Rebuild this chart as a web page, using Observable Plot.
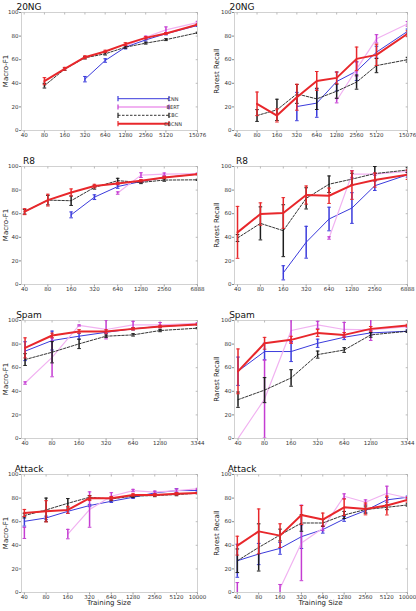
<!DOCTYPE html>
<html>
<head>
<meta charset="utf-8">
<script src="https://cdn.jsdelivr.net/npm/d3@7"></script>
<script src="https://cdn.jsdelivr.net/npm/@observablehq/plot@0.6"></script>
<style>
  body { margin: 0; background: #fff; }
  #chart { position: relative; width: 416px; height: 611px; font-family: "DejaVu Sans", sans-serif; }
  #chart svg { position: absolute; }
</style>
</head>
<body>
<div id="chart"></div>
<script>
// ---- training sizes (x) per dataset ----
const sizes20NG = [40, 80, 160, 320, 640, 1280, 2560, 5120, 15076];
const sizesR8 = [40, 80, 160, 320, 640, 1280, 2560, 6888];
const sizesSpam = [40, 80, 160, 320, 640, 1280, 3344];
const sizesAttack = [40, 80, 160, 320, 640, 1280, 2560, 5120, 10000];

const yTicks = [0, 20, 40, 60, 80, 100];

// ---- 20NG, Macro-F1 (mean, error) ----
const ngF1Cnn = [null, null, null, 43.5, 59.3, 70.6, 76.8, 82, 89];
const ngF1CnnErr = [null, null, null, 2.3, 1.5, 1.5, 1, 1, 0.8];
const ngF1Bert = [null, null, null, null, null, 71.5, 79, 85.3, 91.5];
const ngF1BertErr = [null, null, null, null, null, 1, 1, 2.5, 1];
const ngF1Cbc = [null, 38, 52, 61.6, 65, 70.6, 74, 77, 82.8];
const ngF1CbcErr = [null, 2, 1, 1, 1, 1, 0.8, 0.8, 0.5];
const ngF1Cbcnn = [null, 41.8, 52.3, 62.1, 67, 73.2, 78.5, 82.2, 89.8];
const ngF1CbcnnErr = [null, 3, 1.2, 1.2, 1, 1.2, 1, 0.8, 0.5];

// ---- 20NG, Rarest Recall ----
const ngRecCnn = [null, null, null, 20.3, 23.2, 41.5, 50.3, 66.4, 84];
const ngRecCnnErr = [null, null, null, 12, 12, 8, 8, 5, 2];
const ngRecBert = [null, null, null, null, null, 25.4, 52, 77.7, 90.4];
const ngRecBertErr = [null, null, null, null, null, 2, 6, 3.5, 2];
const ngRecCbc = [null, 12.7, 17.5, 31, 26.8, 33.3, 41, 55, 60];
const ngRecCbcErr = [null, 5, 9, 8, 9, 6, 6, 6, 2];
const ngRecCbcnn = [null, 22.6, 12.7, 28.2, 42, 44.6, 60.7, 64.1, 82];
const ngRecCbcnnErr = [null, 10, 5.5, 11, 8, 5, 10, 9, 2.5];

// ---- R8, Macro-F1 ----
const r8F1Cnn = [null, null, 59, 74, 83, 87.3, 90.7, 93.5];
const r8F1CnnErr = [null, null, 2.5, 2, 1.5, 1, 0.8, 0.5];
const r8F1Bert = [null, null, null, null, 77.5, 92.7, 93.5, 94];
const r8F1BertErr = [null, null, null, null, 1, 2, 1, 0.5];
const r8F1Cbc = [61.7, 71.5, 71, 82.3, 88, 86.5, 88.5, 88.7];
const r8F1CbcErr = [2, 4, 4, 1.5, 2, 1, 1, 0.5];
const r8F1Cbcnn = [61.7, 71.5, 78, 83.4, 85.6, 87.9, 90.7, 93.5];
const r8F1CbcnnErr = [2.5, 5, 3, 1.5, 1, 1, 1, 0.5];

// ---- R8, Rarest Recall ----
const r8RecCnn = [null, null, 9.9, 35.8, 55.5, 64.8, 83.7, 93];
const r8RecCnnErr = [null, null, 6, 13.5, 10, 13, 4, 2];
const r8RecBert = [null, null, null, null, 39.4, 93.5, 93.5, 95.8];
const r8RecBertErr = [null, null, null, null, 1, 3, 1, 1];
const r8RecCbc = [39.4, 51.8, 45.6, 73, 85, 89.3, 94, 97];
const r8RecCbcErr = [3, 14, 22, 9, 7, 5, 6, 2];
const r8RecCbcnn = [44.2, 59.7, 60.6, 75.8, 75.2, 84.2, 88.5, 93];
const r8RecCbcnnErr = [22, 9.5, 13, 7.7, 6.5, 12, 6, 4];

// ---- Spam, Macro-F1 ----
const spamF1Cnn = [74, 83, 86.7, 90, 93, 95, 96.6];
const spamF1CnnErr = [8, 8, 2.5, 1, 1, 1, 0.5];
const spamF1Bert = [47, 68.8, 95.8, 92.4, 96.3, 96.3, 97.7];
const spamF1BertErr = [1, 16.5, 0.5, 8, 3, 2, 0.5];
const spamF1Cbc = [66.9, 73.1, 80.2, 86.7, 87.8, 91.5, 93.5];
const spamF1CbcErr = [5, 9, 4, 1, 1, 1, 0.5];
const spamF1Cbcnn = [76.8, 87.3, 90.7, 90.7, 92.9, 94.9, 96.6];
const spamF1CbcnnErr = [8.5, 2, 1.5, 1.5, 1, 1, 0.5];

// ---- Spam, Rarest Recall ----
const spamRecCnn = [57, 73.7, 73.7, 80.7, 85.8, 89.5, 90.9];
const spamRecCnnErr = [12, 7, 8.5, 3.5, 2, 2, 1];
const spamRecBert = [0, 33.4, 91.5, 96.3, 92.4, 92.1, 94.9];
const spamRecBertErr = [0, 33, 10, 3, 6, 9, 1];
const spamRecCbc = [32.9, 41, 51.3, 71.1, 75, 87.8, 90.9];
const spamRecCbcErr = [6.5, 10.6, 7, 3, 2, 2, 1];
const spamRecCbcnn = [56.9, 80.7, 83.6, 89.5, 87.8, 92.9, 95.8];
const spamRecCbcnnErr = [19, 5, 3, 3, 2, 2, 1];

// ---- Attack, Macro-F1 ----
const atkF1Cnn = [60.3, 63.2, 68.8, 73.7, 77.3, 80.7, 84.4, 86.4, 86.4];
const atkF1CnnErr = [4, 1.5, 1.5, 1, 1, 1, 1, 1.5, 0.5];
const atkF1Bert = [50.5, null, 49.5, 70.3, 81.6, 86.4, 85, 86.4, 87.8];
const atkF1BertErr = [4.7, null, 4, 15, 3, 1, 1, 1.5, 0.5];
const atkF1Cbc = [65.2, 70, 75.6, 80.7, 79.3, 81.6, 82.2, 83, 84.1];
const atkF1CbcErr = [2, 10, 4, 1.5, 1.5, 1, 1, 1, 0.5];
const atkF1Cbcnn = [67.4, 68.8, 70, 79.9, 79.9, 82.7, 82.7, 83.6, 84.4];
const atkF1CbcnnErr = [3, 9, 3, 2, 1.5, 1, 1, 1, 0.5];

// ---- Attack, Rarest Recall ----
const atkRecCnn = [26.9, 32.6, 37.4, 47.3, 53.3, 62.3, 69.4, 78.5, 80.7];
const atkRecCnnErr = [14, 9, 5, 10, 3, 2, 2, 2, 1];
const atkRecBert = [4.2, null, 3.4, 42, 54.4, 81.6, 76.5, 84.1, 80.2];
const atkRecBertErr = [4.2, null, 3.4, 32, 2, 2, 2, 6, 1];
const atkRecCbc = [26.9, 38.2, 48.7, 58.9, 58.9, 65.7, 70.3, 72.2, 74.2];
const atkRecCbcErr = [10, 20, 5, 7, 3, 3, 3, 2, 1];
const atkRecCbcnn = [39.7, 51.8, 48.2, 65.7, 61.8, 72.2, 70.8, 73.7, 78.5];
const atkRecCbcnnErr = [8, 19, 10, 8, 5.5, 7, 5, 8, 2];

// ---- model names and styles ----
const models = ["CNN", "BERT", "CBC", "CBCNN"];
const lineColor = {CNN: "#3b3bdc", BERT: "#f1b2f1", CBC: "#1e1e1e", CBCNN: "#e8272b"};
const barColor = {CNN: "#3b3bdc", BERT: "#c43cd2", CBC: "#1e1e1e", CBCNN: "#e8272b"};
const lineWidth = {CNN: 1, BERT: 1.2, CBC: 0.9, CBCNN: 2};
const lineDash = {CNN: null, BERT: null, CBC: "2.5,1.5", CBCNN: null};

// ---- panel grid ----
const panels = [
  {row: 0, col: 0, title: "20NG", ylabel: "Macro-F1", sizes: sizes20NG,
   series: {CNN: [ngF1Cnn, ngF1CnnErr], BERT: [ngF1Bert, ngF1BertErr], CBC: [ngF1Cbc, ngF1CbcErr], CBCNN: [ngF1Cbcnn, ngF1CbcnnErr]}},
  {row: 0, col: 1, title: "20NG", ylabel: "Rarest Recall", sizes: sizes20NG,
   series: {CNN: [ngRecCnn, ngRecCnnErr], BERT: [ngRecBert, ngRecBertErr], CBC: [ngRecCbc, ngRecCbcErr], CBCNN: [ngRecCbcnn, ngRecCbcnnErr]}},
  {row: 1, col: 0, title: "R8", ylabel: "Macro-F1", sizes: sizesR8,
   series: {CNN: [r8F1Cnn, r8F1CnnErr], BERT: [r8F1Bert, r8F1BertErr], CBC: [r8F1Cbc, r8F1CbcErr], CBCNN: [r8F1Cbcnn, r8F1CbcnnErr]}},
  {row: 1, col: 1, title: "R8", ylabel: "Rarest Recall", sizes: sizesR8,
   series: {CNN: [r8RecCnn, r8RecCnnErr], BERT: [r8RecBert, r8RecBertErr], CBC: [r8RecCbc, r8RecCbcErr], CBCNN: [r8RecCbcnn, r8RecCbcnnErr]}},
  {row: 2, col: 0, title: "Spam", ylabel: "Macro-F1", sizes: sizesSpam,
   series: {CNN: [spamF1Cnn, spamF1CnnErr], BERT: [spamF1Bert, spamF1BertErr], CBC: [spamF1Cbc, spamF1CbcErr], CBCNN: [spamF1Cbcnn, spamF1CbcnnErr]}},
  {row: 2, col: 1, title: "Spam", ylabel: "Rarest Recall", sizes: sizesSpam,
   series: {CNN: [spamRecCnn, spamRecCnnErr], BERT: [spamRecBert, spamRecBertErr], CBC: [spamRecCbc, spamRecCbcErr], CBCNN: [spamRecCbcnn, spamRecCbcnnErr]}},
  {row: 3, col: 0, title: "Attack", ylabel: "Macro-F1", sizes: sizesAttack, xlabel: "Training Size",
   series: {CNN: [atkF1Cnn, atkF1CnnErr], BERT: [atkF1Bert, atkF1BertErr], CBC: [atkF1Cbc, atkF1CbcErr], CBCNN: [atkF1Cbcnn, atkF1CbcnnErr]}},
  {row: 3, col: 1, title: "Attack", ylabel: "Rarest Recall", sizes: sizesAttack, xlabel: "Training Size",
   series: {CNN: [atkRecCnn, atkRecCnnErr], BERT: [atkRecBert, atkRecBertErr], CBC: [atkRecCbc, atkRecCbcErr], CBCNN: [atkRecCbcnn, atkRecCbcnnErr]}}
];

const rowGeom = [
  {top: 0, height: 150, mt: 12, mb: 20},
  {top: 150, height: 150, mt: 16, mb: 16},
  {top: 300, height: 155, mt: 20, mb: 17},
  {top: 455, height: 156, mt: 19, mb: 19}
];
const colGeom = [
  {left: 0, width: 208, ml: 21, mr: 11, ylabelX: 5.5},
  {left: 208, width: 208, ml: 26, mr: 9, ylabelX: 9}
];

// horizontal cap drawn at the ends of each error bar
const capSymbol = {
  draw(ctx, size) {
    const r = Math.sqrt(size / Math.PI);
    ctx.moveTo(-r, 0);
    ctx.lineTo(r, 0);
  }
};
// short tick strokes for the frame edges
const tickDown = {draw(ctx) { ctx.moveTo(0, 0); ctx.lineTo(0, 2); }};
const tickLeft = {draw(ctx) { ctx.moveTo(0, 0); ctx.lineTo(-1.8, 0); }};

const chart = document.getElementById("chart");

function seriesRows(sizes, model, means, errs) {
  return sizes.map((s, i) => ({model, size: s, y: means[i], err: errs[i]}));
}

for (const p of panels) {
  const rg = rowGeom[p.row], cg = colGeom[p.col];
  const marks = [
    Plot.frame({stroke: "#c6c6c6", strokeWidth: 0.8}),
    Plot.axisY({ticks: yTicks, tickSize: 2, tickPadding: 1, label: null, stroke: "#888"}),
    // right-edge and top-edge inward ticks
    Plot.dot(yTicks, {y: d => d, frameAnchor: "right", symbol: tickLeft, stroke: "#aaa", strokeWidth: 0.8}),
    Plot.dot(p.sizes, {x: d => d, frameAnchor: "top", symbol: tickDown, stroke: "#aaa", strokeWidth: 0.8}),
    // bottom ticks and their labels
    Plot.dot(p.sizes, {x: d => d, frameAnchor: "bottom", symbol: tickDown, stroke: "#888", strokeWidth: 0.8}),
    Plot.text(p.sizes, {x: d => d, frameAnchor: "bottom", lineAnchor: "top", dy: 3,
      text: d => String(d), fill: "#333"})
  ];
  for (const m of models) {
    const [means, errs] = p.series[m];
    const rows = seriesRows(p.sizes, m, means, errs);
    const withBars = rows.filter(d => d.y != null && d.err != null && d.err > 0);
    marks.push(
      Plot.line(rows, {x: "size", y: "y", stroke: lineColor[m], strokeWidth: lineWidth[m],
        strokeDasharray: lineDash[m], clip: true}),
      Plot.ruleX(withBars, {x: "size", y1: d => d.y - d.err, y2: d => d.y + d.err,
        stroke: barColor[m], strokeWidth: 1.5, clip: true}),
      Plot.dot(withBars, {x: "size", y: d => d.y - d.err, symbol: capSymbol, r: 1.8,
        stroke: barColor[m], strokeWidth: 1, fill: "none", clip: true}),
      Plot.dot(withBars, {x: "size", y: d => d.y + d.err, symbol: capSymbol, r: 1.8,
        stroke: barColor[m], strokeWidth: 1, fill: "none", clip: true})
    );
  }

  const svg = Plot.plot({
    width: cg.width,
    height: rg.height,
    marginLeft: cg.ml,
    marginRight: cg.mr,
    marginTop: rg.mt,
    marginBottom: rg.mb,
    x: {type: "log", domain: [36.5, p.sizes[p.sizes.length - 1]], axis: null},
    y: {domain: [0, 100]},
    style: {fontFamily: "DejaVu Sans, sans-serif", fontSize: "5.5px", color: "#333", background: "transparent", overflow: "visible"},
    marks
  });
  svg.style.left = cg.left + "px";
  svg.style.top = rg.top + "px";
  chart.appendChild(svg);

  const s = d3.select(svg);
  const plotTop = rg.mt, plotBottom = rg.height - rg.mb;
  // panel title
  s.append("text")
    .attr("x", cg.ml + 8).attr("y", plotTop - 2)
    .attr("font-size", 9).attr("fill", "#111")
    .text(p.title);
  // y-axis label
  s.append("text")
    .attr("transform", `translate(${cg.ylabelX},${(plotTop + plotBottom) / 2}) rotate(-90)`)
    .attr("text-anchor", "middle").attr("dominant-baseline", "central")
    .attr("font-size", 7).attr("fill", "#222")
    .text(p.ylabel);
  // x-axis label
  if (p.xlabel) {
    s.append("text")
      .attr("x", (cg.ml + cg.width - cg.mr) / 2).attr("y", rg.height - 6)
      .attr("text-anchor", "middle")
      .attr("font-size", 7).attr("fill", "#222")
      .text(p.xlabel);
  }

  // legend sits in the first panel
  if (p.row === 0 && p.col === 0) {
    const lg = s.append("g");
    const x0 = 118, x1 = 169, ys = [98.7, 107, 115.3, 123.7];
    models.forEach((m, i) => {
      const y = ys[i];
      lg.append("line").attr("x1", x0).attr("x2", x1).attr("y1", y).attr("y2", y)
        .attr("stroke", lineColor[m]).attr("stroke-width", m === "BERT" ? 2.2 : lineWidth[m])
        .attr("stroke-dasharray", lineDash[m]);
      for (const xx of [x0, x1]) {
        lg.append("line").attr("x1", xx).attr("x2", xx).attr("y1", y - 2.6).attr("y2", y + 2.6)
          .attr("stroke", barColor[m]).attr("stroke-width", 1.2);
      }
      lg.append("text").attr("x", x1 + 4).attr("y", y).attr("dominant-baseline", "central")
        .attr("font-size", 5).attr("fill", "#333").text(m);
    });
  }
}
</script>
</body>
</html>
